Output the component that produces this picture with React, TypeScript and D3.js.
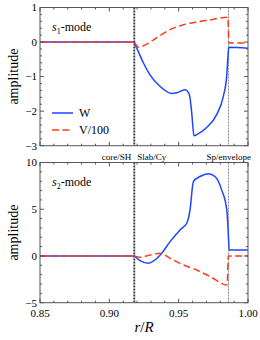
import React from 'react';
import * as d3 from 'd3';

// s1-mode
const rS1W = [0.85, 0.9175, 0.9197, 0.9245, 0.9293, 0.9365, 0.945, 0.9486, 0.9546, 0.9577, 0.9594, 0.961, 0.963, 0.97, 0.9774, 0.9822, 0.9846, 0.9856, 0.9861, 1.0];
const s1W = [0, 0, -0.17, -0.6, -0.95, -1.28, -1.49, -1.47, -1.38, -1.52, -2.04, -2.71, -2.68, -2.48, -2.1, -1.57, -1.0, -0.4, -0.15, -0.18];
const rS1V = [0.85, 0.9175, 0.921, 0.927, 0.934, 0.9438, 0.9534, 0.963, 0.9726, 0.9855, 0.9862, 1.0];
const s1V = [0, 0, -0.15, -0.06, 0.12, 0.36, 0.5, 0.58, 0.64, 0.72, -0.03, -0.03];

// s2-mode
const rS2W = [0.85, 0.9175, 0.9221, 0.9281, 0.9329, 0.9378, 0.9438, 0.951, 0.9558, 0.9582, 0.9606, 0.9654, 0.9714, 0.9762, 0.981, 0.9847, 0.9859, 0.9864, 1.0];
const s2W = [0, 0, -0.5, -0.78, -0.43, 0.29, 1.53, 2.79, 3.5, 4.93, 7.96, 8.5, 8.79, 8.5, 7.07, 4.93, 2.07, 0.64, 0.64];
const rS2V = [0.85, 0.9175, 0.9221, 0.9293, 0.9365, 0.9438, 0.9534, 0.963, 0.9726, 0.985, 0.9858, 1.0];
const s2V = [0, 0, -0.14, 0.1, 0.29, -0.25, -0.96, -1.5, -2.2, -3.1, 0, 0];

const xTicks = [0.85, 0.9, 0.95, 1.0];
const yTicksTop = [-3, -2, -1, 0, 1];
const yTicksBottom = [-5, 0, 5, 10];
const boundaries = [0.918, 0.986];

const BLUE = '#1f44ff';
const RED = '#ff3a1a';
const AXIS = '#555';
const FONT = '"Liberation Serif", "DejaVu Serif", serif';
const DASH = '7,3.5';

const left = 40;
const right = 248;
const x = d3.scaleLinear().domain([0.85, 1.0]).range([left, right]);

const fmtY = (v: number) => (v < 0 ? '\u2212' + Math.abs(v) : String(v));

function Panel({ y, yTicks, minorStep, series, showX, mode }: any) {
  const [y0, y1] = y.range();
  const top = y1;
  const bottom = y0;
  const dom = y.domain();
  const minorY = d3.range(dom[0], dom[1] + 1e-9, minorStep).filter((v: number) => !yTicks.some((t: number) => Math.abs(t - v) < 1e-6));
  const minorX = d3.range(0.85, 1.0001, 0.01).filter((v: number) => !xTicks.some((t) => Math.abs(t - v) < 1e-6));
  const line = d3.line<[number, number]>().x((d) => x(d[0])).y((d) => y(d[1])).curve(d3.curveMonotoneX);

  return (
    <g>
      {boundaries.map((b, i) => (
        <line key={i} x1={x(b)} x2={x(b)} y1={top} y2={bottom}
          stroke={i === 0 ? '#333' : '#777'} strokeWidth={i === 0 ? 1.8 : 0.9} strokeDasharray="2,1" />
      ))}
      {series.map((s: any, i: number) => (
        <path key={i} d={line(s.r.map((r: number, j: number) => [r, s.v[j]])) || ''}
          fill="none" stroke={s.color} strokeWidth={1.5} strokeDasharray={s.dash || null} />
      ))}
      <rect x={left} y={top} width={right - left} height={bottom - top} fill="none" stroke={AXIS} strokeWidth={1} />
      {yTicks.map((t: number) => (
        <g key={'y' + t}>
          <line x1={left} x2={left + 4} y1={y(t)} y2={y(t)} stroke={AXIS} />
          <line x1={right} x2={right - 4} y1={y(t)} y2={y(t)} stroke={AXIS} />
          <text x={left - 3} y={y(t)} dy="0.35em" textAnchor="end" fontSize={11} fontFamily={FONT}>{fmtY(t)}</text>
        </g>
      ))}
      {minorY.map((t: number) => (
        <g key={'my' + t}>
          <line x1={left} x2={left + 2} y1={y(t)} y2={y(t)} stroke={AXIS} />
          <line x1={right} x2={right - 2} y1={y(t)} y2={y(t)} stroke={AXIS} />
        </g>
      ))}
      {xTicks.map((t) => (
        <g key={'x' + t}>
          <line x1={x(t)} x2={x(t)} y1={bottom} y2={bottom - 4} stroke={AXIS} />
          <line x1={x(t)} x2={x(t)} y1={top} y2={top + 4} stroke={AXIS} />
          {showX && (
            <text x={x(t)} y={bottom + 14} textAnchor="middle" fontSize={11} fontFamily={FONT}>{t.toFixed(2)}</text>
          )}
        </g>
      ))}
      {minorX.map((t: number) => (
        <g key={'mx' + t}>
          <line x1={x(t)} x2={x(t)} y1={bottom} y2={bottom - 2} stroke={AXIS} />
          <line x1={x(t)} x2={x(t)} y1={top} y2={top + 2} stroke={AXIS} />
        </g>
      ))}
      <text x={52} y={top + 23} fontSize={12} fontFamily={FONT}>
        <tspan fontStyle="italic">s</tspan>
        <tspan fontSize={8} dy={3}>{mode}</tspan>
        <tspan dy={-3}>-mode</tspan>
      </text>
      <text transform={`translate(18,${(top + bottom) / 2}) rotate(-90)`} textAnchor="middle" fontSize={14} fontFamily={FONT}>amplitude</text>
    </g>
  );
}

export default function App() {
  const yTop = d3.scaleLinear().domain([-3, 1]).range([145.7, 7.5]);
  const yBot = d3.scaleLinear().domain([-5, 10]).range([302.7, 162.5]);

  return (
    <svg width={260} height={340} style={{ position: 'absolute', left: 0, top: 0, background: '#fff' }}>
      <Panel y={yTop} yTicks={yTicksTop} minorStep={0.2} showX={false} mode="1"
        series={[
          { r: rS1W, v: s1W, color: BLUE },
          { r: rS1V, v: s1V, color: RED, dash: DASH },
        ]} />
      <Panel y={yBot} yTicks={yTicksBottom} minorStep={1} showX={true} mode="2"
        series={[
          { r: rS2W, v: s2W, color: BLUE },
          { r: rS2V, v: s2V, color: RED, dash: DASH },
        ]} />
      <line x1={52} x2={73} y1={113} y2={113} stroke={BLUE} strokeWidth={1.5} />
      <text x={79} y={117} fontSize={12} fontFamily={FONT}>W</text>
      <line x1={52} x2={73} y1={130} y2={130} stroke={RED} strokeWidth={1.5} strokeDasharray={DASH} />
      <text x={79} y={134} fontSize={12} fontFamily={FONT}>V/100</text>
      <text x={x(0.918) - 3} y={159.5} textAnchor="end" fontSize={9} fontFamily={FONT}>core/SH</text>
      <text x={x(0.918) + 3} y={159.5} fontSize={9} fontFamily={FONT}>Slab/Cy</text>
      <text x={251} y={159.5} textAnchor="end" fontSize={9} fontFamily={FONT}>Sp/envelope</text>
      <text x={144} y={332} textAnchor="middle" fontSize={15} fontFamily={FONT}>
        <tspan fontStyle="italic">r</tspan>/<tspan fontStyle="italic">R</tspan>
      </text>
    </svg>
  );
}
